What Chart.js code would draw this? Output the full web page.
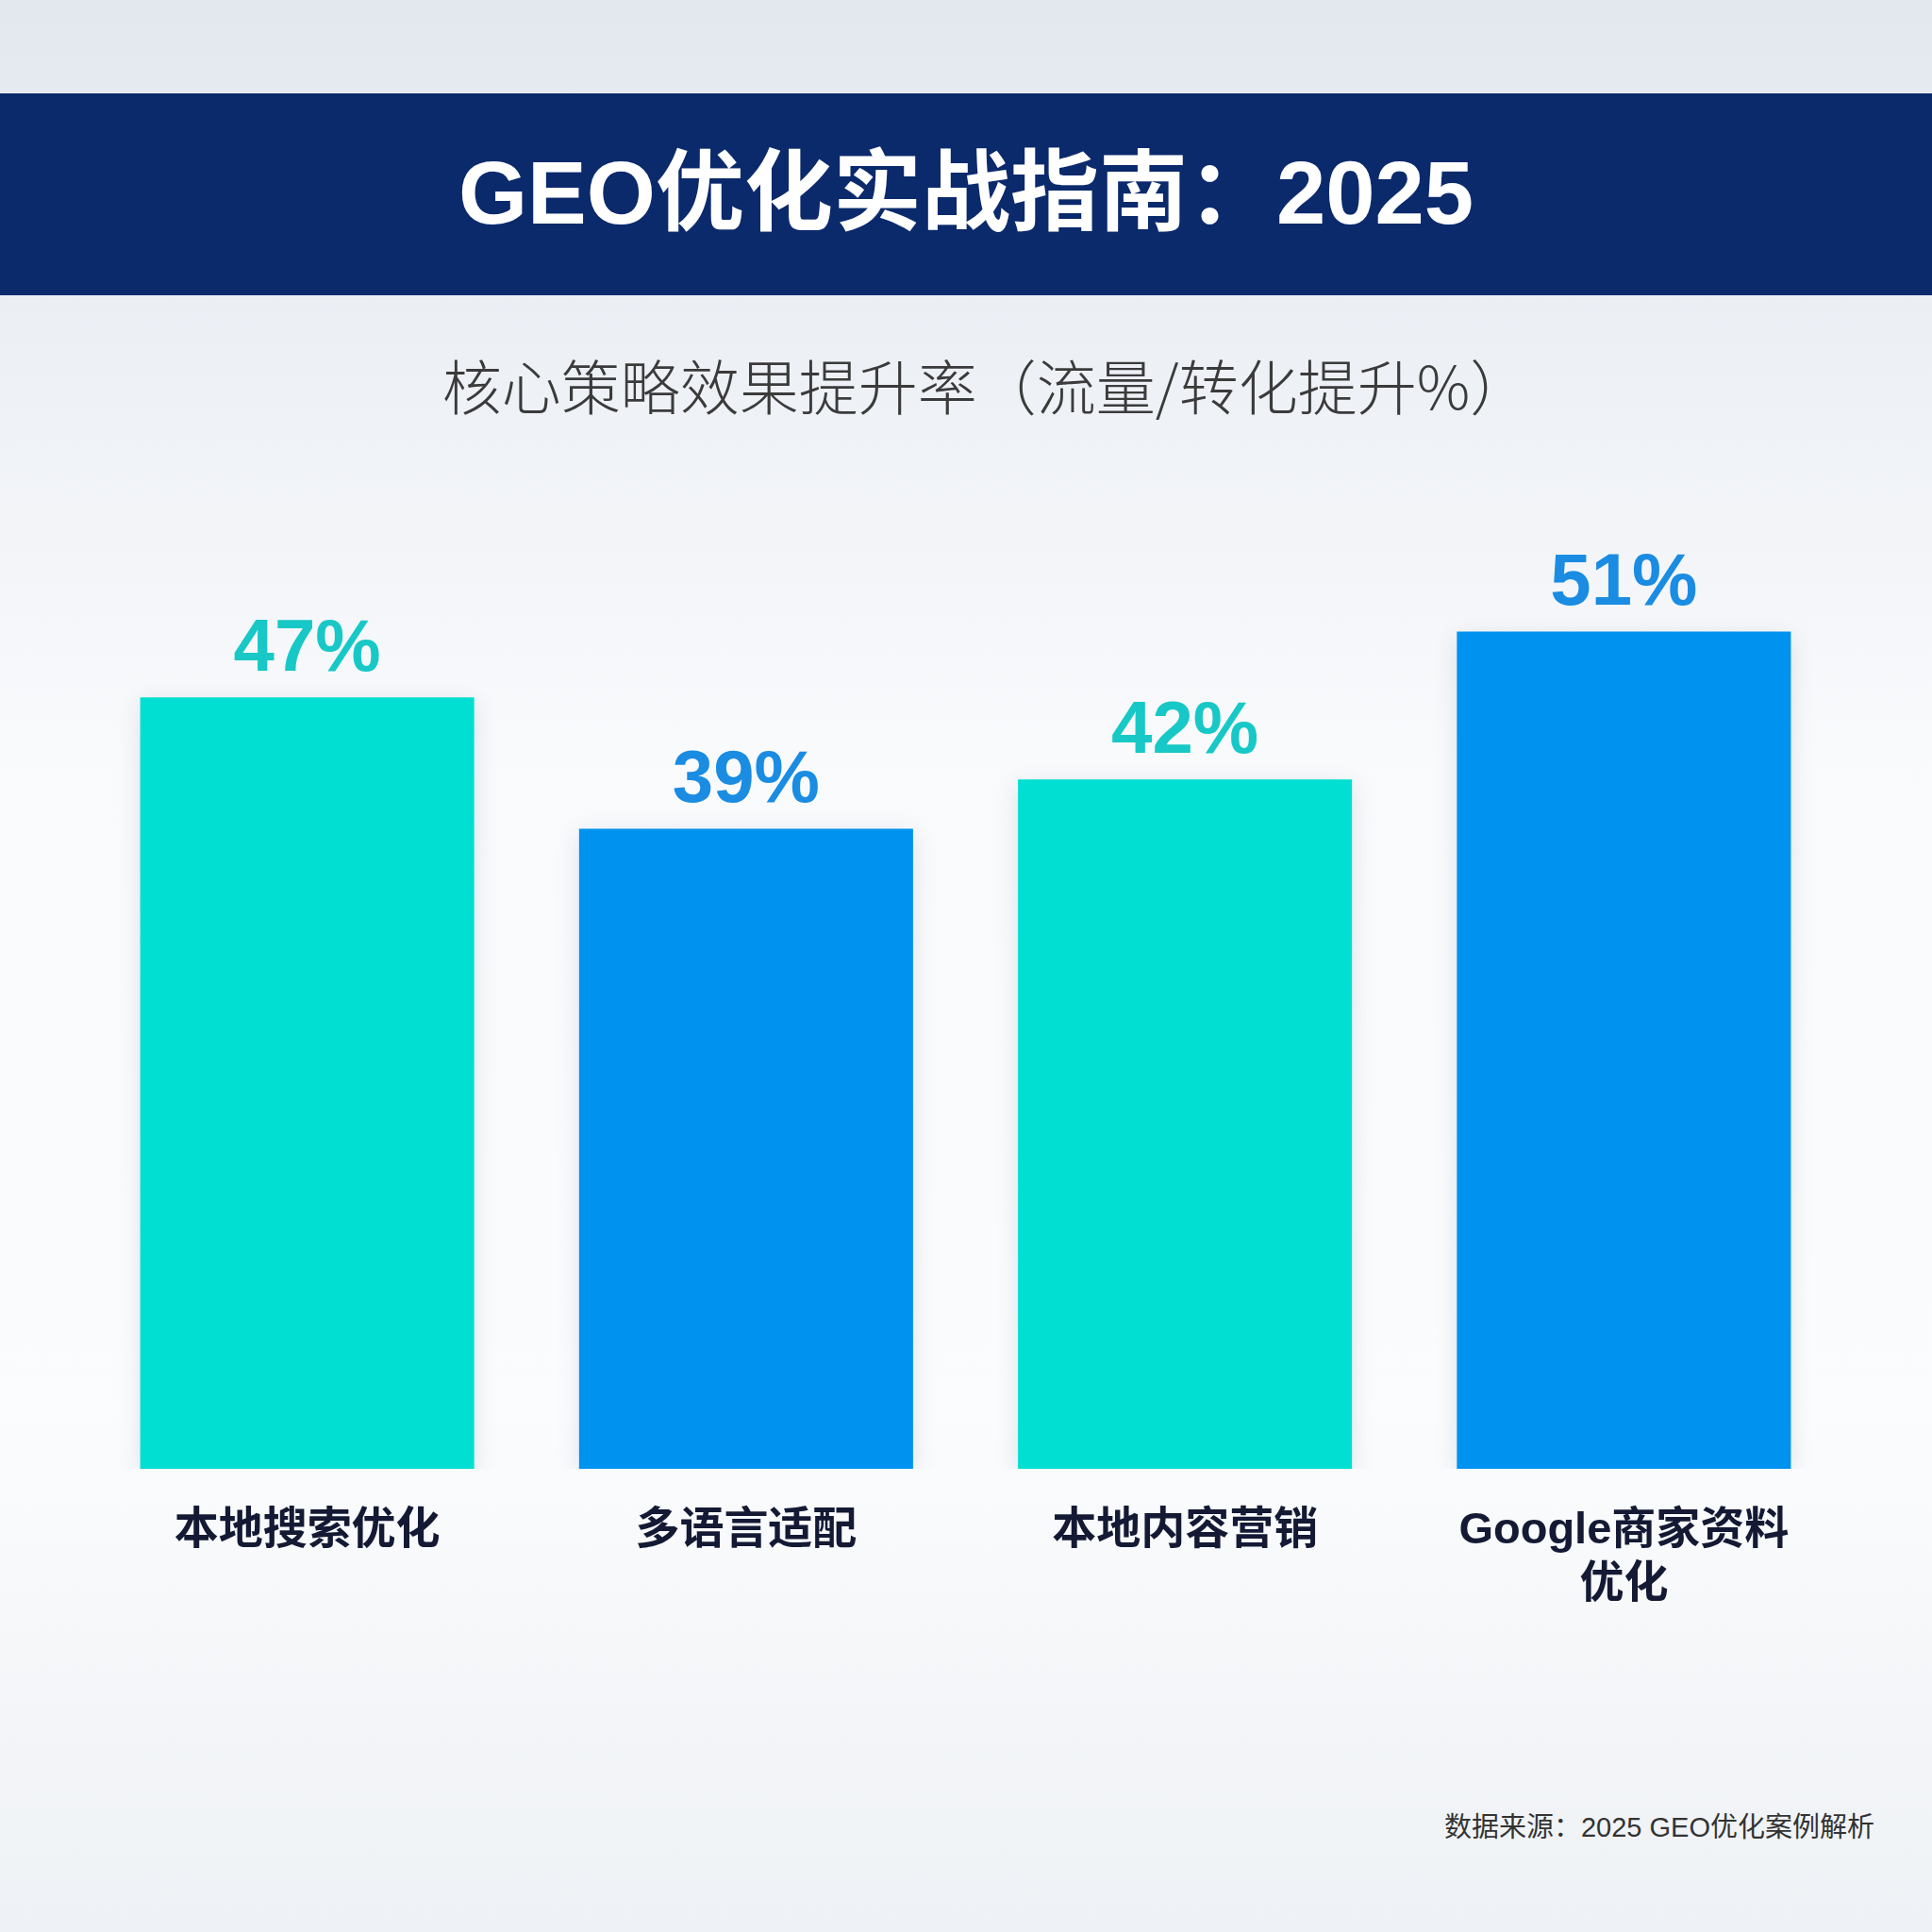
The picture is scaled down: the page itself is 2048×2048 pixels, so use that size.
<!DOCTYPE html>
<html lang="zh-CN">
<head>
<meta charset="utf-8">
<title>GEO优化实战指南：2025</title>
<script src="https://cdn.jsdelivr.net/npm/chart.js@4.4.1/dist/chart.umd.min.js"></script>
<style>
  html, body {
    margin: 0;
    padding: 0;
  }
  body {
    width: 2048px;
    height: 2048px;
    position: relative;
    overflow: hidden;
    background: linear-gradient(180deg, #e3e8ef 0px, #eef1f6 420px, #f9fafc 800px, #fbfcfd 1500px, #eef1f5 2048px);
    font-family: "Liberation Sans", "Noto Sans CJK SC", sans-serif;
  }
  .banner {
    position: absolute;
    left: 0;
    top: 99px;
    width: 2048px;
    height: 214px;
    background: #0b2a6c;
    color: #fff;
    text-align: center;
    line-height: 212px;
    font-size: 94px;
    font-weight: bold;
  }
  .subtitle {
    position: absolute;
    left: 21px;
    width: 2048px;
    top: 367px;
    line-height: 80px;
    text-align: center;
    font-family: "Noto Sans CJK SC", sans-serif;
    font-weight: 300;
    font-size: 63px;
    color: #3b3b3b;
  }
  .source {
    position: absolute;
    right: 61px;
    top: 1917px;
    line-height: 40px;
    font-size: 29px;
    color: #333;
  }
  #chart {
    position: absolute;
    left: 0;
    top: 0;
  }
</style>
</head>
<body>
<div class="banner">GEO优化实战指南：2025</div>
<div class="subtitle">核心策略效果提升率（流量/转化提升%）</div>
<div class="source">数据来源：2025 GEO优化案例解析</div>
<canvas id="chart" width="2048" height="2048"></canvas>
<script>
const categories = ['本地搜索优化', '多语言适配', '本地内容营销', ['Google商家资料', '优化']];
const values = [47, 39, 42, 51];
const yMax = 60;

const teal = '#00dfd1';
const blue = '#0092ef';
const tealText = '#17c8c6';
const blueText = '#1a8ce2';

const barShadow = {
    id: 'barShadow',
    beforeDatasetsDraw(chart) {
        const c = chart.ctx;
        c.save();
        c.shadowColor = 'rgba(20, 50, 90, 0.12)';
        c.shadowBlur = 24;
        c.shadowOffsetY = 6;
    },
    afterDatasetsDraw(chart) {
        chart.ctx.restore();
    },
};

const valueLabels = {
    id: 'valueLabels',
    afterDatasetsDraw(chart) {
        const c = chart.ctx;
        const meta = chart.getDatasetMeta(0);
        c.save();
        c.font = 'bold 78px "Liberation Sans", "Noto Sans CJK SC", sans-serif';
        c.textAlign = 'center';
        c.textBaseline = 'middle';
        meta.data.forEach((bar, i) => {
            c.fillStyle = i % 2 ? blueText : tealText;
            c.fillText(values[i] + '%', bar.x, bar.y - 50);
        });
        c.restore();
    },
};

new Chart(document.getElementById('chart'), {
    type: 'bar',
    data: {
        labels: categories,
        datasets: [
            {
                data: values,
                backgroundColor: (ctx) => (ctx.dataIndex % 2 ? blue : teal),
                borderWidth: 0,
                categoryPercentage: 1,
                barPercentage: 0.761,
            },
        ],
    },
    options: {
        responsive: false,
        devicePixelRatio: 1,
        animation: false,
        layout: {
            padding: { left: 93, right: 94, top: 513, bottom: 331 },
        },
        scales: {
            x: {
                grid: { display: false, drawTicks: false },
                border: { display: false },
                ticks: {
                    color: '#141a34',
                    padding: 38,
                    maxRotation: 0,
                    autoSkip: false,
                    font: {
                        family: '"Liberation Sans", "Noto Sans CJK SC", sans-serif',
                        size: 47,
                        weight: 'bold',
                        lineHeight: 1.2,
                    },
                },
                afterFit: (scale) => {
                    scale.height = 160;
                },
            },
            y: {
                display: false,
                min: 0,
                max: yMax,
            },
        },
        plugins: {
            legend: { display: false },
            tooltip: { enabled: false },
        },
    },
    plugins: [barShadow, valueLabels],
});
</script>
</body>
</html>
